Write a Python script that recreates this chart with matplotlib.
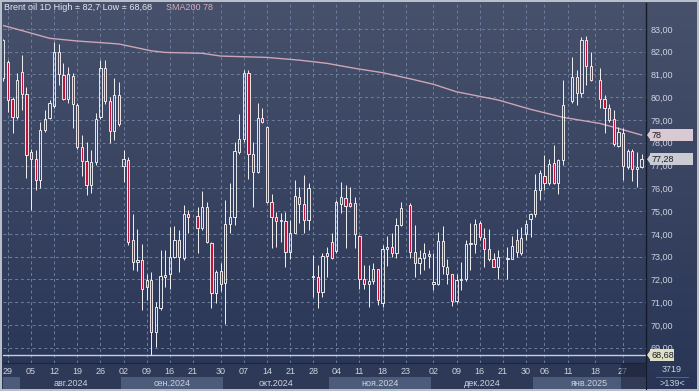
import numpy as np
import matplotlib.pyplot as plt
from matplotlib.patches import Rectangle, Polygon
from matplotlib.lines import Line2D

plt.rcParams['font.family'] = ['Liberation Sans', 'DejaVu Sans']

# Brent oil, daily bars. Bars sit on slots of the time axis; some slots are empty.
n_slots = 139
gap_slots = [41, 87, 108, 122, 128]

opens = [80.83, 81.56, 79.91, 79.12, 81.12, 80.14, 77.58, 77.27, 76.36, 78.56,
         79.07, 79.61, 82.00, 80.98, 79.92, 80.95, 79.66, 77.80, 77.20, 76.14,
         77.17, 79.12, 81.27, 79.83, 78.53, 80.10, 76.98, 77.24, 73.73, 72.75,
         72.85, 71.65, 71.97, 69.70, 70.73, 72.12, 72.23, 72.97, 73.73, 72.92,
         74.86,
         74.78, 74.24, 75.16, 73.61, 71.41, 72.38, 71.85, 74.43, 74.72, 77.61,
         78.16, 81.05, 77.49, 76.73, 79.07, 78.71, 75.41, 74.75, 74.56, 74.56,
         73.19, 74.05, 75.63, 75.31, 74.61, 72.09, 72.09, 71.46, 73.04, 73.63,
         73.24, 75.31, 75.59, 75.37, 75.37, 73.90, 72.04, 71.82, 71.94, 72.44,
         70.98, 73.32, 73.41, 73.14, 74.39,
         75.29, 73.19, 72.70, 72.92, 73.04, 71.82, 71.82, 73.68, 72.56, 72.22,
         71.06, 71.97, 72.00, 73.55, 73.55, 74.46, 73.84, 73.32, 72.88, 72.56,
         72.90, 72.91, 73.73, 73.17, 73.98, 74.65, 74.87, 75.92, 76.55, 76.25,
         77.10, 76.25, 77.24,
         79.83, 80.87, 80.20, 82.51, 81.37,
         80.78, 79.91, 79.55, 79.03, 77.87, 78.41, 76.95, 77.64, 76.85, 76.92]
highs = [82.55, 81.62, 80.02, 81.05, 81.85, 80.46, 77.75, 77.68, 78.93, 79.44,
         79.88, 82.44, 82.34, 81.49, 81.34, 81.05, 79.73, 78.34, 78.05, 77.68,
         79.29, 81.63, 81.63, 80.02, 80.83, 80.68, 77.68, 77.39, 74.87, 74.20,
         73.55, 72.26, 72.34, 71.02, 73.29, 73.29, 74.31, 74.36, 74.17, 75.27,
         75.05,
         75.19, 75.89, 75.41, 73.65, 72.41, 72.70, 75.48, 76.22, 78.05, 79.25,
         81.19, 81.19, 78.05, 79.73, 79.51, 78.73, 75.75, 74.97, 74.93, 74.97,
         74.61, 76.36, 76.07, 76.58, 76.22, 73.07, 72.63, 73.14, 73.43, 74.02,
         75.48, 76.26, 76.14, 76.07, 75.63, 73.95, 72.63, 72.63, 72.70, 72.48,
         73.51, 73.90, 74.02, 74.68, 75.41,
         75.37, 74.39, 73.29, 73.58, 73.29, 73.14, 74.09, 74.34, 72.88, 72.26,
         72.26, 72.75, 73.73, 74.46, 74.65, 74.58, 74.24, 74.20, 73.14, 73.29,
         73.43, 73.90, 74.20, 74.31, 74.61, 74.93, 76.63, 76.80, 77.46, 77.31,
         77.90, 77.27, 80.78,
         81.75, 81.19, 82.66, 82.70, 82.00,
         81.27, 80.10, 79.70, 79.44, 78.68, 78.63, 77.75, 77.71, 77.61, 77.53]
lows = [80.70, 79.36, 78.44, 79.03, 79.44, 76.44, 75.05, 75.92, 76.00, 78.49,
        79.03, 79.55, 80.54, 79.88, 79.73, 78.63, 77.75, 76.55, 75.70, 75.78,
        77.02, 79.03, 79.70, 77.97, 78.12, 78.73, 76.26, 73.51, 72.41, 72.38,
        70.65, 71.09, 68.68, 69.04, 70.65, 71.68, 71.56, 72.92, 72.34, 72.85,
        74.02,
        73.14, 74.17, 73.61, 70.73, 70.95, 71.50, 70.04, 74.02, 74.39, 77.53,
        78.05, 76.39, 75.19, 76.69, 78.85, 75.37, 73.36, 73.43, 73.65, 72.53,
        72.88, 74.02, 74.46, 74.02, 74.17, 71.21, 70.73, 71.24, 72.12, 72.88,
        73.14, 74.93, 73.36, 75.19, 73.36, 71.60, 71.60, 70.80, 71.82, 70.87,
        70.77, 72.59, 72.97, 72.92, 74.36,
        72.92, 72.12, 72.26, 72.41, 72.50, 71.53, 71.75, 72.26, 71.82, 70.83,
        70.98, 71.53, 71.94, 72.41, 73.14, 73.73, 72.53, 72.82, 72.53, 72.04,
        72.00, 72.88, 72.97, 73.07, 73.73, 73.87, 74.75, 75.48, 75.92, 76.14,
        76.19, 75.75, 77.02,
        79.76, 79.66, 80.02, 80.54, 80.73,
        79.51, 78.44, 78.93, 77.87, 77.83, 76.36, 76.83, 76.33, 76.04, 76.88]
closes = [82.51, 79.88, 79.12, 80.76, 80.14, 77.46, 77.29, 76.36, 78.56, 79.04,
          79.73, 82.00, 81.02, 79.92, 81.02, 79.70, 77.83, 77.20, 76.14, 77.17,
          79.04, 81.27, 79.83, 78.53, 80.10, 78.82, 77.31, 73.65, 72.78, 72.85,
          71.60, 71.97, 69.70, 70.80, 72.16, 72.19, 72.97, 73.73, 72.97, 74.86,
          74.72,
          74.28, 75.19, 73.65, 71.41, 72.34, 71.82, 74.43, 74.75, 77.64, 78.16,
          81.05, 77.53, 76.73, 79.07, 78.90, 75.41, 74.75, 74.56, 74.61, 73.19,
          74.05, 75.66, 75.31, 74.61, 76.00, 72.15, 71.46, 73.04, 73.17, 72.92,
          75.38, 75.60, 75.24, 75.24, 73.98, 72.00, 71.82, 71.94, 72.44, 71.09,
          73.32, 73.43, 73.14, 74.39, 75.12,
          73.19, 72.70, 72.92, 73.17, 73.10, 71.87, 73.68, 72.59, 72.26, 71.06,
          71.97, 72.00, 73.55, 73.58, 74.42, 73.87, 73.32, 72.88, 72.56, 72.97,
          72.92, 73.48, 73.19, 73.84, 74.42, 74.87, 75.92, 76.66, 76.25, 77.07,
          76.25, 77.24, 79.66,
          80.87, 80.17, 82.51, 81.37, 80.78,
          79.91, 79.55, 79.00, 77.93, 78.49, 76.99, 77.64, 76.85, 76.95, 77.28]

sma_slot = [0, 4, 10, 16, 21, 25, 32, 35, 43, 47, 52, 57, 64, 70, 76, 82, 88,
            93, 98, 107, 114, 121, 129, 133, 138]
sma_val = [83.15, 82.93, 82.59, 82.47, 82.40, 82.34, 82.04, 81.97, 81.93, 81.81,
           81.78, 81.75, 81.63, 81.49, 81.27, 81.08, 80.81, 80.57, 80.24, 79.88,
           79.47, 79.12, 78.85, 78.63, 78.34]

tick_slot = [1, 6, 11, 16, 21, 26, 31, 36, 41, 47, 52, 57, 62, 67, 72, 77, 82,
             87, 93, 98, 103, 108, 113, 117, 122, 128, 134]
tick_text = ['29', '05', '12', '19', '26', '02', '09', '16', '21', '30', '07',
             '14', '21', '28', '04', '11', '18', '23', '02', '09', '16', '21',
             '30', '06', '11', '18', '27']
month_start = [4, 26, 48, 71, 93, 115]
month_text = ['авг.2024', 'сен.2024', 'окт.2024', 'ноя.2024', 'дек.2024', 'янв.2025']

period_high, period_low = 82.7, 68.68
last_close = 77.28
total_bars = 3719


def comma(v, nd=2):
    return f'{v:.{nd}f}'.replace('.', ',')


W, H = 699, 391
fig = plt.figure(figsize=(W / 100, H / 100), dpi=100)
fig.patch.set_facecolor('#b8bfcb')


def px_box(x0, y0, x1, y1):
    return [x0 / W, 1 - y1 / H, (x1 - x0) / W, (y1 - y0) / H]


# background gradient behind plot + price panel
bg = fig.add_axes(px_box(2, 2, 697, 389))
top = np.array([71, 81, 107]) / 255
bot = np.array([41, 53, 86]) / 255
t = np.linspace(0, 1, 256)[:, None]
bg.imshow((top * (1 - t) + bot * t)[:, None, :], aspect='auto', extent=[0, 1, 0, 1])
bg.set_axis_off()

ax = fig.add_axes(px_box(3, 3, 646, 363))
ax.set_facecolor('none')
xmin, xmax = -0.07, 138.96
ax.set_xlim(xmin, xmax)
ax.set_ylim(68.33, 84.14)

ax.set_xticks(tick_slot)
ax.set_yticks(range(69, 84))
ax.grid(True, color='#6d7ea0', lw=0.7, linestyle=(0, (3, 3)))
ax.set_axisbelow(True)
ax.tick_params(axis='x', length=0, labelbottom=False)
ax.tick_params(axis='y', length=0, left=False, labelleft=False, labelright=True,
               pad=3, labelsize=6.5, labelcolor='#ccd3de')
ax.yaxis.set_major_formatter(lambda v, p: comma(v))
for s in ax.spines.values():
    s.set_visible(False)
ax.spines['right'].set_visible(True)
ax.spines['right'].set_color('#141a28')
ax.spines['right'].set_linewidth(1.0)

# candles
x = np.array([s for s in range(n_slots) if s not in gap_slots])
o, h, l, c = map(np.array, (opens, highs, lows, closes))
lo_b, hi_b = np.minimum(o, c), np.maximum(o, c)
up = c >= o
ax.vlines(x, l, lo_b, color='#f2f2f2', lw=0.7, zorder=3)
ax.vlines(x, hi_b, h, color='#f2f2f2', lw=0.7, zorder=3)
ax.bar(x[up], (hi_b - lo_b)[up], bottom=lo_b[up], width=0.48, facecolor='none',
       edgecolor='#f2f2f2', lw=0.65, zorder=4)
ax.bar(x[~up], (hi_b - lo_b)[~up], bottom=lo_b[~up], width=0.48, facecolor='#c2143a',
       edgecolor='#f2f2f2', lw=0.65, zorder=4)

ax.plot(sma_slot, sma_val, color='#cda5b8', lw=1.0, zorder=2)
ax.axhline(period_low, color='#c9ced8', lw=1.0, zorder=2)

# price tags on the right scale
yt = ax.get_yaxis_transform()


def price_tag(v, text, face, x_right):
    hh = 0.27
    ax.add_patch(Rectangle((1.006, v - hh), x_right - 1.006, 2 * hh, transform=yt,
                           clip_on=False, facecolor=face, edgecolor='none', zorder=5))
    ax.add_patch(Polygon([(1.0015, v), (1.0066, v + 0.2), (1.0066, v - 0.2)],
                         transform=yt, clip_on=False, facecolor=face,
                         edgecolor='none', zorder=5))
    ax.text(1.0085, v, text, transform=yt, ha='left', va='center', fontsize=6.5,
            color='#1c1c24', zorder=6, clip_on=False)


price_tag(sma_val[-1], f'{sma_val[-1]:.0f}', '#d9c9d2', 1.073)
price_tag(last_close, comma(last_close), '#c9cdd3', 1.073)
price_tag(period_low, comma(period_low), '#dedfc6', 1.0435)

fig.text(4 / W, 1 - 8 / H,
         f'Brent oil 1D High = {comma(period_high, 1)} Low = {comma(period_low)}',
         ha='left', va='center', fontsize=6.5, color='#e2e7ef')
fig.text(166 / W, 1 - 8 / H, f'SMA200 {sma_val[-1]:.0f}', ha='left', va='center',
         fontsize=6.5, color='#d8aabd')

# time scale strip
sx = fig.add_axes(px_box(3, 363, 646, 389))
sx.set_xlim(xmin, xmax)
sx.set_ylim(0, 1)
sx.set_facecolor('#2e3957')
sx.set_xticks([])
sx.set_yticks([])
bounds = [xmin] + [m - 0.5 for m in month_start] + [xmax]
for i in range(len(bounds) - 1):
    col = '#4d5b7b' if i % 2 == 0 else '#2e3957'
    sx.axvspan(bounds[i], bounds[i + 1], 0, 0.47, color=col, lw=0)
for i, name in enumerate(month_text):
    sx.text((bounds[i + 1] + bounds[i + 2]) / 2, 0.23, name, ha='center', va='center',
            fontsize=6.5, color='#ccd3de')
for s, txt in zip(tick_slot, tick_text):
    sx.text(s, 0.655, txt, ha='center', va='center', fontsize=6.5, color='#ccd3de',
            clip_on=False)
sx.axvspan(133.5, xmax, color='#1a2136', alpha=0.55, lw=0, zorder=4)
for s in sx.spines.values():
    s.set_visible(False)
sx.spines['right'].set_visible(True)
sx.spines['right'].set_color('#141a28')
sx.spines['top'].set_visible(True)
sx.spines['top'].set_color('#1e2538')
sx.spines['top'].set_linewidth(0.8)

fig.text(672 / W, 1 - 370 / H, str(total_bars), ha='center', va='center',
         fontsize=6.5, color='#ccd3de')
fig.text(672 / W, 1 - 383 / H, f'>{n_slots}<', ha='center', va='center',
         fontsize=6.5, color='#ccd3de')
fig.add_artist(Line2D([656 / W, 688 / W], [1 - 376.5 / H] * 2, color='#5f6d8a', lw=0.6))

fig.savefig('out.png', dpi=100, facecolor=fig.get_facecolor())
